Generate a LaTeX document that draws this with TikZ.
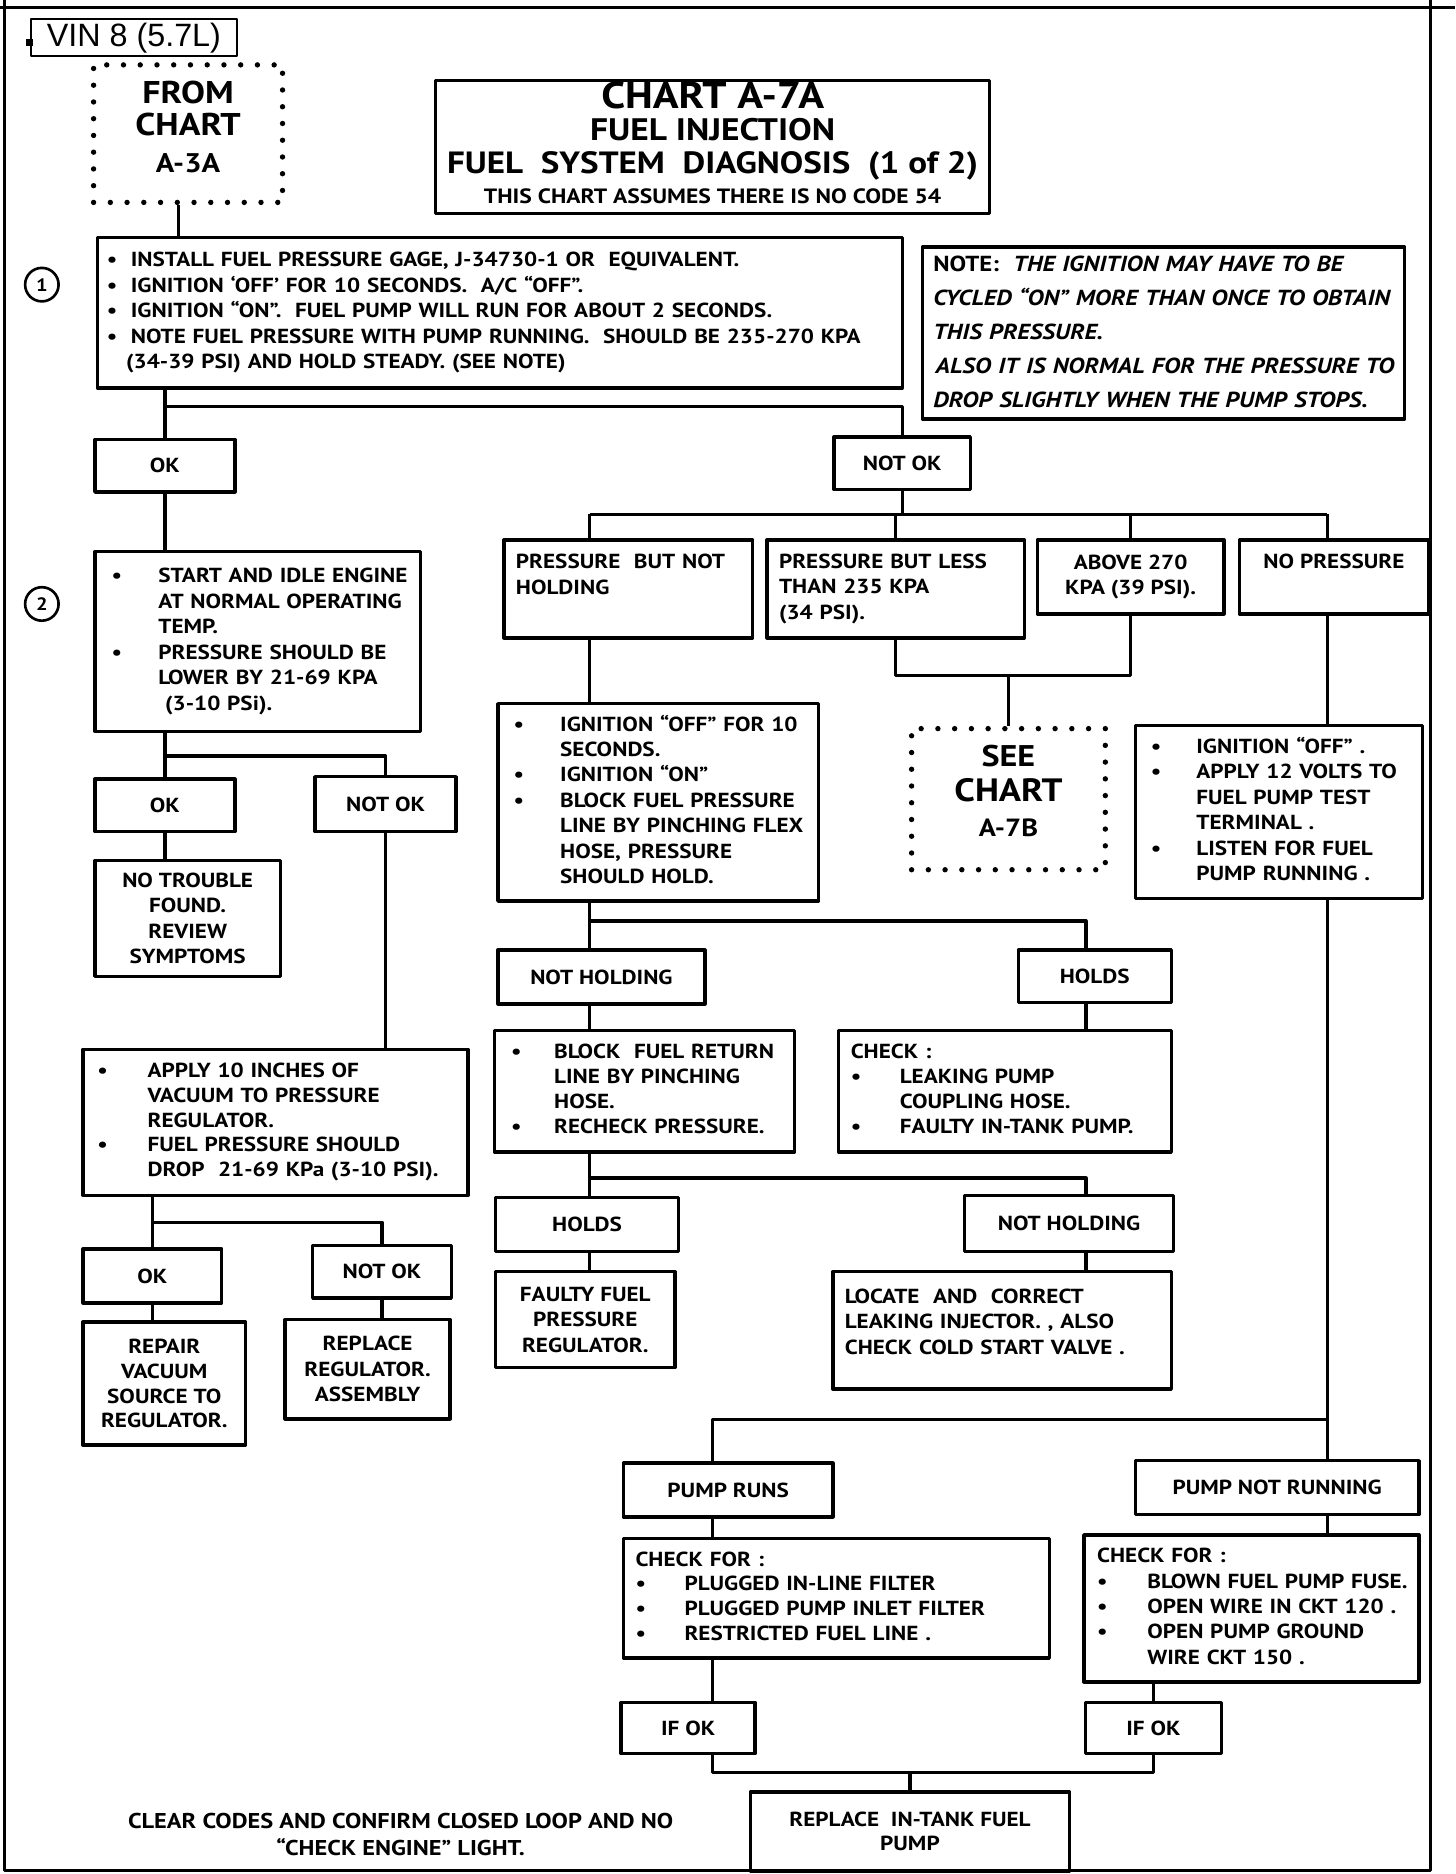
\documentclass[tikz,border=0pt]{standalone}
\usepackage{fontspec}
\setmainfont{PT Sans}[FakeStretch=1.14]
\newfontfamily\vinfont{Liberation Sans}
\usetikzlibrary{calc}

\newcommand{\boxlines}[1]{\begin{tabular}{@{}l@{}}#1\end{tabular}}
\newcommand{\boxcenter}[1]{\begin{tabular}{@{}c@{}}#1\end{tabular}}
\newcommand{\bul}[1][39pt]{\makebox[#1][l]{•}}
\newcommand{\cont}[1][39pt]{\hspace*{#1}}

\begin{document}
\begin{tikzpicture}[x=1pt, y=-1pt, line join=round]
	\tikzset{
		box/.style={draw, line width=2.8pt, anchor=north west, inner ysep=0pt, font=\bfseries\fontsize{17}{21.3}\selectfont},
		lbox/.style={box, align=left},
		cbox/.style={box, align=center, inner xsep=0pt},
		dotbox/.style={draw, line width=4.5pt, line cap=round, dash pattern=on 0pt off 14pt, anchor=north west, align=center, inner sep=0pt, font=\bfseries},
		link/.style={line width=2.8pt},
		frame/.style={line width=2.4pt}
	}
	\useasboundingbox (0,0) rectangle (1217,1567);
	% outer frame
	\draw[frame] (0,6)--(1217,6);
	\draw[frame] (4,0)--(4,1564)--(1196,1564)--(1196,0);
	% header
	\node[draw, line width=2pt, anchor=north west, minimum width=172pt, minimum height=31pt, inner sep=0pt, font=\vinfont\fontsize{27}{27}\selectfont] (vin) at (25,15) {VIN 8 (5.7L)};
	\node[fill, minimum size=6pt, inner sep=0pt] (vinmark) at ($(vin.west)+(0,4)$) {};
	\node[dotbox, minimum width=158pt, minimum height=115pt, font=\bfseries\fontsize{26.3}{27}\selectfont] (from3a) at (76,52) {\boxcenter{FROM\\CHART\\[4pt]{\fontsize{22.5}{22}\selectfont A-3A}\\[4pt]}};
	\node[box, align=center, minimum width=463pt, minimum height=111pt, inner sep=0pt, font=\bfseries\fontsize{26}{24}\selectfont] (title) at (363,66)
		{\boxcenter{{\fontsize{31.3}{24}\selectfont CHART A-7A}\\[0.6pt] FUEL INJECTION\\[2.3pt] {\fontsize{25.7}{24}\selectfont FUEL\ \ SYSTEM\ \ DIAGNOSIS\ \ (1 of 2)}\\[0.5pt] {\fontsize{17.3}{17}\selectfont THIS CHART ASSUMES THERE IS NO CODE 54}}};
	\node[circle, draw, line width=2.2pt, minimum size=28pt, inner sep=0pt, font=\bfseries\fontsize{15}{15}\selectfont] (c1) at (35,238) {1};
	\node[circle, draw, line width=2.2pt, minimum size=28pt, inner sep=0pt, font=\bfseries\fontsize{15}{15}\selectfont] (c2) at (35,505) {2};
	% step 1
	\node[lbox, text width=657pt, inner xsep=8pt, minimum height=126pt] (gage) at (80,197) {\boxlines{%
		\bul[20pt]INSTALL FUEL PRESSURE GAGE, J-34730-1 OR\ \ EQUIVALENT.\\
		\bul[20pt]IGNITION ‘OFF’ FOR 10 SECONDS.\ \ A/C “OFF”.\\
		\bul[20pt]IGNITION “ON”.\ \ FUEL PUMP WILL RUN FOR ABOUT 2 SECONDS.\\
		\bul[20pt]NOTE FUEL PRESSURE WITH PUMP RUNNING.\ \ SHOULD BE 235-270 KPA\\
		\cont[16pt](34-39 PSI) AND HOLD STEADY. (SEE NOTE)}};
	\node[lbox, text width=385pt, inner xsep=9pt, minimum height=144pt, font=\bfseries\itshape\fontsize{18.2}{28.5}\selectfont] (note) at (770,205) {\boxlines{%
		{\upshape NOTE:}\ \ THE IGNITION MAY HAVE TO BE\\
		CYCLED “ON” MORE THAN ONCE TO OBTAIN\\
		THIS PRESSURE.\\
		\hspace*{2pt}ALSO IT IS NORMAL FOR THE PRESSURE TO\\
		DROP SLIGHTLY WHEN THE PUMP STOPS.}};
	\node[cbox, minimum width=117pt, minimum height=44pt] (ok1) at (78,366) {OK};
	\node[cbox, minimum width=114pt, minimum height=44pt] (notok1) at (696,364) {NOT OK};
	% left branch
	\node[lbox, text width=244pt, inner xsep=14pt, minimum height=150pt] (idle) at (78,460) {\boxlines{%
		\bul START AND IDLE ENGINE\\
		\cont AT NORMAL OPERATING\\
		\cont TEMP.\\
		\bul PRESSURE SHOULD BE\\
		\cont LOWER BY 21-69 KPA\\
		\cont\ (3-10 PSi).}};
	\node[cbox, minimum width=117pt, minimum height=44pt] (ok2) at (78,650) {OK};
	\node[cbox, minimum width=118pt, minimum height=46pt] (notok2) at (262,648) {NOT OK};
	\node[cbox, minimum width=155pt, minimum height=97pt] (notrouble) at (78,718) {NO TROUBLE\\FOUND.\\REVIEW\\SYMPTOMS};
	\node[lbox, text width=298pt, inner xsep=12pt, minimum height=122pt, font=\bfseries\fontsize{17}{20.7}\selectfont] (vacuum) at (68,876) {\boxlines{%
		\bul[42pt]APPLY 10 INCHES OF\\
		\cont[42pt]VACUUM TO PRESSURE\\
		\cont[42pt]REGULATOR.\\
		\bul[42pt]FUEL PRESSURE SHOULD\\
		\cont[42pt]DROP\ \ 21-69 KPa\ (3-10 PSI).}};
	\node[cbox, minimum width=116pt, minimum height=45pt] (ok3) at (68,1043) {OK};
	\node[cbox, minimum width=116pt, minimum height=44pt] (notok3) at (260,1040) {NOT OK};
	\node[cbox, minimum width=136pt, minimum height=103pt, font=\bfseries\fontsize{17}{20.7}\selectfont] (repair) at (68,1104) {REPAIR\\VACUUM\\SOURCE TO\\REGULATOR.};
	\node[cbox, minimum width=138pt, minimum height=83pt] (replreg) at (237,1102) {REPLACE\\REGULATOR.\\ASSEMBLY};
	% pressure readings
	\node[lbox, text width=188pt, inner xsep=10pt, minimum height=82pt] (pbnh) at (420,450) {\boxlines{PRESSURE\ \ BUT NOT\\HOLDING\\[21pt]}};
	\node[lbox, text width=195pt, inner xsep=10pt, minimum height=82pt] (pbl) at (640,450) {\boxlines{PRESSURE BUT LESS\\THAN 235 KPA\\(34 PSI).}};
	\node[cbox, minimum width=156pt, minimum height=62pt] (above) at (866,450) {ABOVE 270\\KPA (39 PSI).};
	\node[cbox, minimum width=158pt, minimum height=62pt] (nopress) at (1035,450) {\boxlines{NO PRESSURE\\[22pt]}};
	\node[lbox, text width=242pt, inner xsep=13pt, minimum height=165pt] (ignition) at (415,587) {\boxlines{%
		\bul IGNITION “OFF” FOR 10\\
		\cont SECONDS.\\
		\bul IGNITION “ON”\\
		\bul BLOCK FUEL PRESSURE\\
		\cont LINE BY PINCHING FLEX\\
		\cont HOSE, PRESSURE\\
		\cont SHOULD HOLD.}};
	\node[dotbox, minimum width=162pt, minimum height=118pt, font=\bfseries\fontsize{25}{29}\selectfont] (seeb) at (760,607) {\boxcenter{SEE\\{\fontsize{27}{29}\selectfont CHART}\\{\fontsize{20.8}{20}\selectfont A-7B}\\[7.6pt]}};
	\node[lbox, text width=214pt, inner xsep=13pt, minimum height=145pt, font=\bfseries\fontsize{17}{21.2}\selectfont] (volts) at (948,605) {\boxlines{%
		\bul[38pt]IGNITION “OFF” .\\
		\bul[38pt]APPLY 12 VOLTS TO\\
		\cont[38pt]FUEL PUMP TEST\\
		\cont[38pt]TERMINAL .\\
		\bul[38pt]LISTEN FOR FUEL\\
		\cont[38pt]PUMP RUNNING .}};
	\node[cbox, minimum width=173pt, minimum height=45pt] (nothold1) at (415,793) {NOT HOLDING};
	\node[cbox, minimum width=128pt, minimum height=44pt] (holds1) at (850,793) {HOLDS};
	\node[lbox, text width=223pt, inner xsep=14pt, minimum height=102pt, font=\bfseries\fontsize{17}{20.7}\selectfont] (blockret) at (412,860) {\boxlines{%
		\bul[36pt]BLOCK\ \ FUEL RETURN\\
		\cont[36pt]LINE BY PINCHING\\
		\cont[36pt]HOSE.\\
		\bul[36pt]RECHECK PRESSURE.}};
	\node[lbox, text width=258pt, inner xsep=10pt, minimum height=102pt, font=\bfseries\fontsize{17}{20.7}\selectfont] (check) at (700,860) {\boxlines{%
		CHECK :\\
		\bul[41pt]LEAKING PUMP\\
		\cont[41pt]COUPLING HOSE.\\
		\bul[41pt]FAULTY IN-TANK PUMP.}};
	\node[cbox, minimum width=153pt, minimum height=45pt] (holds2) at (413,1000) {HOLDS};
	\node[cbox, minimum width=175pt, minimum height=47pt] (nothold2) at (805,998) {NOT HOLDING};
	\node[cbox, minimum width=150pt, minimum height=80pt] (faulty) at (413,1062) {FAULTY FUEL\\PRESSURE\\REGULATOR.};
	\node[lbox, text width=263pt, inner xsep=10pt, minimum height=98pt] (locate) at (695,1062) {\boxlines{%
		LOCATE\ \ AND\ \ CORRECT\\
		LEAKING INJECTOR. , ALSO\\
		CHECK COLD START VALVE .\\[11pt]}};
	% pump branch
	\node[cbox, minimum width=175pt, minimum height=45pt] (pumpruns) at (520,1222) {PUMP RUNS};
	\node[cbox, minimum width=237pt, minimum height=45pt] (pumpnot) at (948,1220) {PUMP NOT RUNNING};
	\node[lbox, text width=336pt, inner xsep=10pt, minimum height=100pt, font=\bfseries\fontsize{17}{20.7}\selectfont] (checkfor1) at (520,1285) {\boxlines{%
		CHECK FOR :\\
		\bul[41pt]PLUGGED IN-LINE FILTER\\
		\bul[41pt]PLUGGED PUMP INLET FILTER\\
		\bul[41pt]RESTRICTED FUEL LINE .}};
	\node[lbox, text width=258pt, inner xsep=11pt, minimum height=123pt, font=\bfseries\fontsize{17}{21.2}\selectfont] (checkfor2) at (905,1282) {\boxlines{%
		CHECK FOR :\\
		\bul[42pt]BLOWN FUEL PUMP FUSE.\\
		\bul[42pt]OPEN WIRE IN CKT 120 .\\
		\bul[42pt]OPEN PUMP GROUND\\
		\cont[42pt]WIRE CKT 150 .}};
	\node[cbox, minimum width=112pt, minimum height=43pt] (ifok1) at (518,1422) {IF OK};
	\node[cbox, minimum width=114pt, minimum height=43pt] (ifok2) at (906,1422) {IF OK};
	\node[cbox, minimum width=267pt, minimum height=66pt, font=\bfseries\fontsize{17}{20}\selectfont] (replpump) at (626,1497) {REPLACE\ \ IN-TANK FUEL\\PUMP};
	\node[align=center, font=\bfseries\fontsize{17.9}{22}\selectfont] (clear) at (335,1534) {CLEAR CODES AND CONFIRM CLOSED LOOP AND NO\\“CHECK ENGINE” LIGHT.};
	% junctions
	\coordinate (colA) at (149,0);
	\coordinate (colL) at (493,0);
	\coordinate (colR) at (908,0);
	\coordinate (colM) at (596,0);
	\coordinate (colP) at (1110,0);
	\coordinate (j1) at (0,340);
	\coordinate (j2) at (0,632);
	\coordinate (j3) at (0,1022);
	\coordinate (j4) at (0,430);
	\coordinate (j5) at (0,565);
	\coordinate (j6) at (0,770);
	\coordinate (j7) at (0,985);
	\coordinate (j8) at (0,1187);
	\coordinate (j9) at (0,1482);
	% connectors
	\draw[link] (colA |- from3a.south) -- (colA |- gage.north);
	\draw[link] (ok1.north |- gage.south) -- (ok1.north);
	\draw[link] (ok1.north |- j1) -| (notok1.north);
	\draw[link] (ok2.north |- idle.south) -- (ok2.north);
	\draw[link] (ok2.north |- j2) -| (notok2.north);
	\draw[link] (ok3.north |- vacuum.south) -- (ok3.north);
	\draw[link] (ok3.north |- j3) -| (notok3.north);
	\foreach \a/\b in {ok1/idle, ok2/notrouble, notok2/vacuum, ok3/repair, notok3/replreg}
		\draw[link] (\a.south) -- (\a.south |- \b.north);
	\draw[link] (notok1.south) -- (notok1.south |- j4);
	\draw[link] (colL |- j4) -- (colP |- j4);
	\foreach \n in {pbl, above}
		\draw[link] (\n.north |- j4) -- (\n.north);
	\draw[link] (colL |- j4) -- (colL |- pbnh.north);
	\draw[link] (colP |- j4) -- (colP |- nopress.north);
	\draw[link] (pbl.south) |- (above.south |- j5) -- (above.south);
	\draw[link] (seeb.north |- j5) -- (seeb.north);
	\foreach \a/\b in {pbnh/ignition, ignition/nothold1, nothold1/blockret, blockret/holds2, holds2/faulty}
		\draw[link] (colL |- \a.south) -- (colL |- \b.north);
	\draw[link] (colL |- j6) -- (colR |- j6) -- (colR |- holds1.north);
	\draw[link] (colL |- j7) -- (colR |- j7) -- (colR |- nothold2.north);
	\foreach \a/\b in {holds1/check, nothold2/locate}
		\draw[link] (colR |- \a.south) -- (colR |- \b.north);
	\foreach \a/\b in {nopress/volts, volts/pumpnot, pumpnot/checkfor2}
		\draw[link] (colP |- \a.south) -- (colP |- \b.north);
	\draw[link] (colP |- j8) -- (colM |- j8) -- (colM |- pumpruns.north);
	\foreach \a/\b in {pumpruns/checkfor1, checkfor1/ifok1}
		\draw[link] (colM |- \a.south) -- (colM |- \b.north);
	\draw[link] (ifok2.north |- checkfor2.south) -- (ifok2.north);
	\draw[link] (colM |- ifok1.south) |- (ifok2.south |- j9) -- (ifok2.south);
	\draw[link] (replpump.north |- j9) -- (replpump.north);
\end{tikzpicture}
\end{document}
